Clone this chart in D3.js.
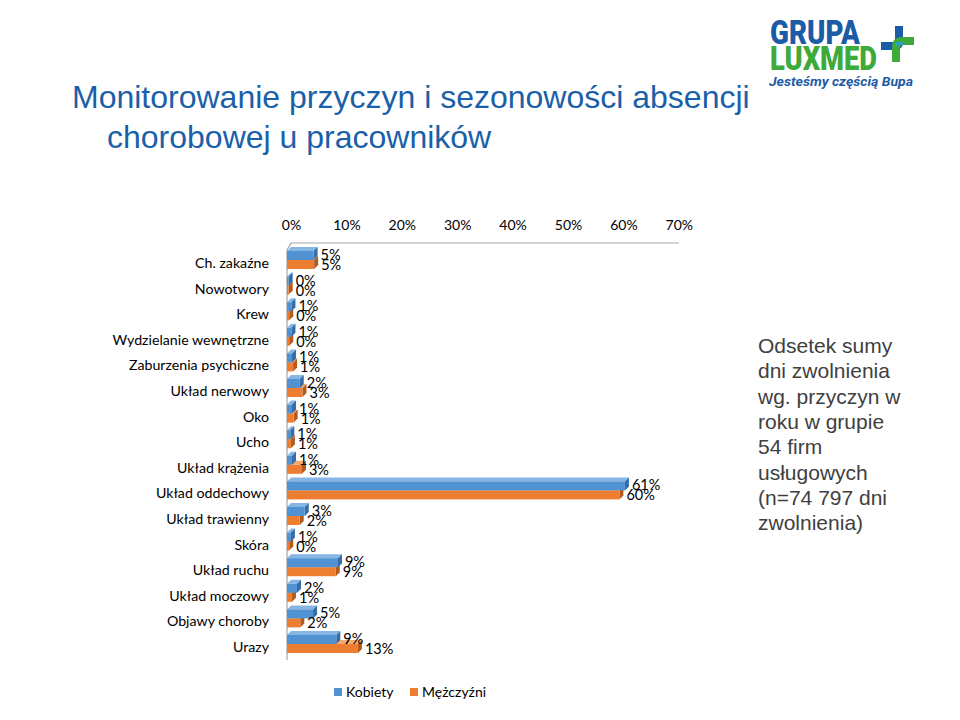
<!DOCTYPE html>
<html><head><meta charset="utf-8">
<script src="https://cdn.jsdelivr.net/npm/d3@7"></script>
<style>body{margin:0;background:#fff}svg{display:block}</style>
</head><body>
<svg id="c" width="960" height="720"></svg>
<script>
const categories = ["Ch. zakaźne","Nowotwory","Krew","Wydzielanie wewnętrzne","Zaburzenia psychiczne","Układ nerwowy","Oko","Ucho","Układ krążenia","Układ oddechowy","Układ trawienny","Skóra","Układ ruchu","Układ moczowy","Objawy choroby","Urazy"];
const kobiety = [4.8,0.3,0.8,0.8,0.9,2.3,0.9,0.6,0.9,61.0,3.2,0.7,9.2,1.8,4.7,8.9];
const mezczyzni = [4.9,0.3,0.4,0.4,1.1,2.8,1.2,0.7,2.7,60.0,2.3,0.4,8.8,0.9,2.4,12.8];
const tickValues = [0,10,20,30,40,50,60,70];
const seriesNames = ["Kobiety","Mężczyźni"];
const titleLines = ["Monitorowanie przyczyn i sezonowości absencji","chorobowej u pracowników"];
const noteLines = ["Odsetek sumy","dni zwolnienia","wg. przyczyn w","roku w grupie","54 firm","usługowych","(n=74 797 dni","zwolnienia)"];

const svg = d3.select("#c");
const FONT = "Lato, 'Open Sans', sans-serif";
const colors = [
  {front:"#5192D3", top:"#86B6E6", side:"#356DA8"},
  {front:"#ED7D31", top:"#F5A86F", side:"#B35A1C"}
];
const dx = 4, dy = -4;

// Title
svg.append("text").attr("x",72).attr("y",108).attr("font-family","'Liberation Sans', Arial, sans-serif")
  .attr("font-size",32).attr("fill","#1A5FA8").text(titleLines[0]);
svg.append("text").attr("x",107).attr("y",148).attr("font-family","'Liberation Sans', Arial, sans-serif")
  .attr("font-size",32).attr("fill","#1A5FA8").text(titleLines[1]);

// Note text
const note = svg.append("text").attr("font-family","'Liberation Sans', Arial, sans-serif")
  .attr("font-size",21).attr("fill","#404040");
noteLines.forEach((l,i)=>note.append("tspan").attr("x",758).attr("y",353+i*25.3).text(l));

// Scales
const x = d3.scaleLinear().domain([0,70]).range([287, 287+70*5.54]);
const y = d3.scalePoint().domain(categories).range([263, 263+15*25.6]);

// Walls
const wall = svg.append("g").attr("stroke","#A6A6A6").attr("fill","none").attr("stroke-width",1.2);
wall.append("path").attr("d",`M${x(0)},660 L${x(0)},${250} L${x(0)+dx},${250+dy-3} L${x(70)+dx},${250+dy-3}`);

// Top axis
const axis = d3.axisTop(x).tickValues(tickValues).tickFormat(d=>d+"%").tickSize(0).tickPadding(0);
const ag = svg.append("g").attr("transform",`translate(${dx},230)`).call(axis);
ag.select(".domain").remove();
ag.selectAll("text").attr("font-family",FONT).attr("font-size",14).attr("fill","#000").attr("dy","0");

// Category labels
svg.append("g").selectAll("text").data(categories).join("text")
  .attr("x",269).attr("y",d=>y(d)+5).attr("text-anchor","end")
  .attr("font-family",FONT).attr("font-size",14.2).attr("fill","#000").text(d=>d);

// 3D bars
function bar3d(g, x0, x1, yTop, h, c){
  g.append("polygon").attr("points",[[x0,yTop],[x0+dx,yTop+dy],[x1+dx,yTop+dy],[x1,yTop]].join(" ")).attr("fill",c.top);
  g.append("polygon").attr("points",[[x1,yTop],[x1+dx,yTop+dy],[x1+dx,yTop+h+dy],[x1,yTop+h]].join(" ")).attr("fill",c.side);
  g.append("rect").attr("x",x0).attr("y",yTop).attr("width",Math.max(0,x1-x0)).attr("height",h).attr("fill",c.front);
}
const bars = svg.append("g");
categories.forEach((cat,i)=>{
  const c = y(cat);
  const g = bars.append("g");
  bar3d(g, x(0), x(mezczyzni[i]), c-3, 9, colors[1]);
  bar3d(g, x(0), x(kobiety[i]), c-12, 9, colors[0]);
});

// Value labels
const labels = svg.append("g").attr("font-family",FONT).attr("font-size",14.5).attr("fill","#000");
categories.forEach((cat,i)=>{
  const c = y(cat);
  labels.append("text").attr("x",x(kobiety[i])+dx+3).attr("y",c-3).text(Math.round(kobiety[i])+"%");
  labels.append("text").attr("x",x(mezczyzni[i])+dx+3).attr("y",c+7).text(Math.round(mezczyzni[i])+"%");
});

// Legend
const leg = svg.append("g").attr("font-family",FONT).attr("font-size",14);
const legX = [334, 410];
seriesNames.forEach((n,i)=>{
  leg.append("rect").attr("x",legX[i]).attr("y",688).attr("width",8).attr("height",8).attr("fill",colors[i].front);
  leg.append("text").attr("x",legX[i]+12).attr("y",697).attr("fill","#000").text(n);
});

// Logo
const logo = svg.append("g");
logo.append("text").attr("x",770).attr("y",44).attr("font-family","Roboto, sans-serif").attr("font-weight",900)
  .attr("font-size",34).attr("fill","#1C5BA6").attr("textLength",90).attr("lengthAdjust","spacingAndGlyphs").text("GRUPA");
logo.append("text").attr("x",770).attr("y",70).attr("font-family","Roboto, sans-serif").attr("font-weight",900)
  .attr("font-size",34).attr("fill","#3DAA3A").attr("textLength",107).attr("lengthAdjust","spacingAndGlyphs").text("LUXMED");
logo.append("text").attr("x",769).attr("y",86).attr("font-family","Roboto, sans-serif").attr("font-weight",700).attr("font-style","italic")
  .attr("font-size",13).attr("fill","#1C5BA6").attr("textLength",144).attr("lengthAdjust","spacingAndGlyphs").text("Jesteśmy częścią Bupa");
// cross icon
logo.append("path").attr("d","M895,26 L903,26 L903,42 Q903,50 895,50 L881,50 L881,42 L895,42 Z").attr("fill","#1C5BA6");
logo.append("path").attr("d","M914,37 L914,45 L903,45 Q900,45 900,48 L900,62 L892,62 L892,47 Q892,37 902,37 Z").attr("fill","#3DAA3A");
logo.append("path").attr("d","M895,42 L903,42 L903,45 L900,45 Q895,45 895,50 Z").attr("fill","#2BA0C8");
</script>
</body></html>
